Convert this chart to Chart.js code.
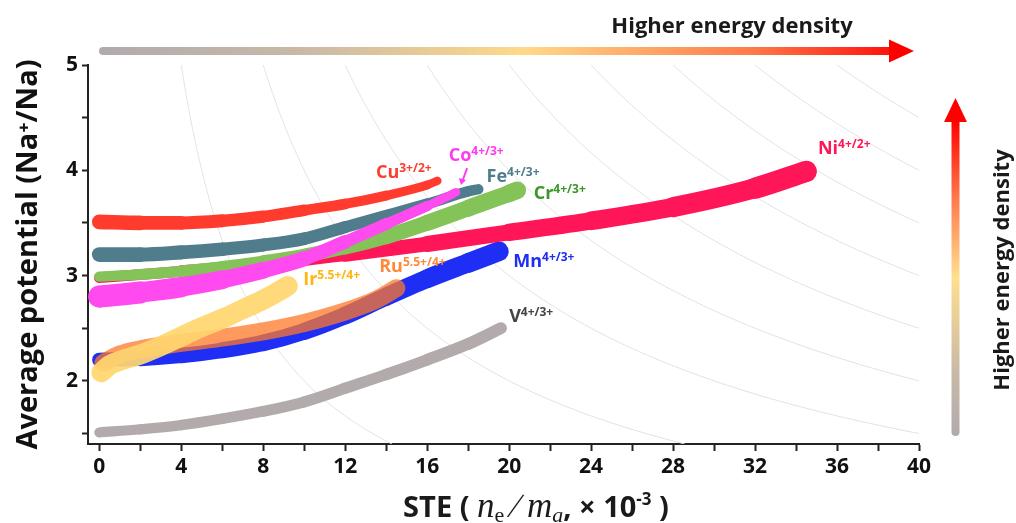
<!DOCTYPE html>
<html>
<head>
<meta charset="utf-8">
<script src="https://cdn.jsdelivr.net/npm/chart.js@4.4.1/dist/chart.umd.min.js"></script>
<style>
  html, body { margin: 0; padding: 0; background: #fff; }
</style>
</head>
<body>
<canvas id="steChart" width="1016" height="523"></canvas>
<script>
// STE (x, ×10^-3) and average potential (V vs Na+/Na) for each redox couple
const cuX = [0, 2, 4, 6, 8, 10, 12, 14, 16, 16.5];
const cuY = [3.51, 3.50, 3.50, 3.52, 3.56, 3.62, 3.68, 3.76, 3.86, 3.90];
const coX = [0, 2, 4, 6, 8, 10, 12, 14, 16, 17.4];
const coY = [2.80, 2.84, 2.89, 2.96, 3.05, 3.16, 3.32, 3.49, 3.66, 3.79];
const feX = [0, 2, 4, 6, 8, 10, 12, 14, 16, 18, 18.5];
const feY = [3.20, 3.20, 3.22, 3.25, 3.29, 3.35, 3.46, 3.57, 3.68, 3.80, 3.82];
const crX = [0, 2, 4, 6, 8, 10, 12, 14, 16, 18, 20, 20.4];
const crY = [2.99, 3.01, 3.04, 3.08, 3.13, 3.19, 3.27, 3.37, 3.50, 3.64, 3.78, 3.81];
const niX = [0, 4, 8, 12, 16, 20, 24, 28, 32, 34.5];
const niY = [2.98, 3.04, 3.11, 3.20, 3.30, 3.41, 3.52, 3.65, 3.83, 3.99];
const irX = [0.1, 0.5, 1, 2, 3, 4, 5, 6, 7, 8, 9.2];
const irY = [2.08, 2.15, 2.19, 2.25, 2.33, 2.42, 2.51, 2.59, 2.68, 2.77, 2.90];
const ruX = [0.2, 1, 2, 4, 6, 8, 10, 12, 13.5, 14.5];
const ruY = [2.17, 2.25, 2.30, 2.36, 2.41, 2.47, 2.55, 2.66, 2.77, 2.88];
const mnX = [0, 2, 4, 6, 8, 10, 12, 14, 16, 18, 19.5];
const mnY = [2.20, 2.21, 2.24, 2.29, 2.36, 2.47, 2.62, 2.80, 2.97, 3.12, 3.23];
const vX = [0, 2, 4, 6, 8, 10, 12, 14, 16, 18, 19.6];
const vY = [1.51, 1.54, 1.58, 1.64, 1.71, 1.80, 1.93, 2.06, 2.20, 2.35, 2.50];

// iso energy density levels (STE × potential)
const isoLevels = [20, 40, 60, 80, 100, 120, 140, 160, 180];

const xMajor = [0, 4, 8, 12, 16, 20, 24, 28, 32, 36, 40];
const yMajor = [2, 3, 4, 5];

const FONT = "'Open Sans', 'DejaVu Sans', sans-serif";

// first in list is drawn on top
const series = [
  { name: 'Cu', sup: '3+/2+', xs: cuX, ys: cuY, color: '#ff3b2e', tagColor: '#ff3b2e', w: [15, 8], tag: [13.5, 3.93] },
  { name: 'Co', sup: '4+/3+', xs: coX, ys: coY, color: '#ff4af0', tagColor: '#ff3bef', w: [23, 8], tag: [17.05, 4.09] },
  { name: 'Fe', sup: '4+/3+', xs: feX, ys: feY, color: '#4f7d8b', tagColor: '#4f7d8b', w: [15, 10], tag: [18.9, 3.89] },
  { name: 'Cr', sup: '4+/3+', xs: crX, ys: crY, color: '#84c358', tagColor: '#3c962c', w: [10, 18], tag: [21.2, 3.73] },
  { name: 'Ni', sup: '4+/2+', xs: niX, ys: niY, color: '#ff1659', tagColor: '#ff1659', w: [10, 22], tag: [35.07, 4.15] },
  { name: 'Ir', sup: '5.5+/4+', xs: irX, ys: irY, color: 'rgba(255,214,112,0.93)', tagColor: '#ffb60f', w: [20, 20], tag: [9.95, 2.91] },
  { name: 'Ru', sup: '5.5+/4+', xs: ruX, ys: ruY, color: 'rgba(255,120,40,0.75)', tagColor: '#ff8a3a', w: [18, 18], tag: [13.66, 3.03] },
  { name: 'Mn', sup: '4+/3+', xs: mnX, ys: mnY, color: '#1f2ef5', tagColor: '#1f2ef5', w: [14, 20], tag: [20.2, 3.08] },
  { name: 'V', sup: '4+/3+', xs: vX, ys: vY, color: '#b3abab', tagColor: '#444444', w: [10, 12], tag: [20.0, 2.56] }
];

const isoPlugin = {
  id: 'isoLines',
  beforeDatasetsDraw(chart) {
    const { ctx, chartArea: a, scales: { x, y } } = chart;
    ctx.save();
    ctx.beginPath();
    ctx.rect(a.left, a.top, a.right - a.left, a.bottom - a.top);
    ctx.clip();
    ctx.strokeStyle = '#e2e2e2';
    ctx.lineWidth = 1;
    isoLevels.forEach(c => {
      ctx.beginPath();
      for (let i = 0; i <= 200; i++) {
        const v = y.max - i * (y.max - y.min) / 200;
        const px = x.getPixelForValue(c / v), py = y.getPixelForValue(v);
        if (i === 0) ctx.moveTo(px, py); else ctx.lineTo(px, py);
      }
      ctx.stroke();
    });
    ctx.restore();
  }
};

function drawRuns(ctx, runs, startX, baseY) {
  let cx = startX;
  runs.forEach(r => {
    ctx.font = r.font;
    ctx.fillText(r.t, cx, baseY + (r.dy || 0));
    cx += ctx.measureText(r.t).width;
  });
}

function runsWidth(ctx, runs) {
  let w = 0;
  runs.forEach(r => { ctx.font = r.font; w += ctx.measureText(r.t).width; });
  return w;
}

const decorPlugin = {
  id: 'decor',
  afterDraw(chart) {
    const { ctx, scales: { x, y } } = chart;
    ctx.save();

    // series tags
    ctx.textAlign = 'left';
    ctx.textBaseline = 'alphabetic';
    series.forEach(s => {
      ctx.fillStyle = s.tagColor;
      const px = x.getPixelForValue(s.tag[0]), py = y.getPixelForValue(s.tag[1]);
      drawRuns(ctx, [
        { t: s.name, font: `bold 18px ${FONT}` },
        { t: s.sup, font: `bold 12px ${FONT}`, dy: -6 }
      ], px, py);
    });

    // small arrow pointing to Co end
    const ax0 = x.getPixelForValue(17.95), ay0 = y.getPixelForValue(4.02);
    const ax1 = x.getPixelForValue(17.65), ay1 = y.getPixelForValue(3.86);
    ctx.strokeStyle = '#ff3bef';
    ctx.fillStyle = '#ff3bef';
    ctx.lineWidth = 2;
    ctx.beginPath(); ctx.moveTo(ax0, ay0); ctx.lineTo(ax1 + 1.5, ay1 - 4); ctx.stroke();
    ctx.beginPath();
    ctx.moveTo(ax1, ay1); ctx.lineTo(ax1 - 2, ay1 - 7); ctx.lineTo(ax1 + 5, ay1 - 5); ctx.closePath(); ctx.fill();

    // horizontal arrow
    const hg = ctx.createLinearGradient(100, 0, 915, 0);
    hg.addColorStop(0, '#b1aaae');
    hg.addColorStop(0.25, '#c9b9a6');
    hg.addColorStop(0.52, '#ffd98a');
    hg.addColorStop(0.8, '#ff7a4a');
    hg.addColorStop(1, '#ff0000');
    ctx.strokeStyle = hg;
    ctx.lineWidth = 8;
    ctx.lineCap = 'round';
    ctx.beginPath(); ctx.moveTo(103, 51); ctx.lineTo(893, 51); ctx.stroke();
    ctx.fillStyle = '#ff0000';
    ctx.beginPath(); ctx.moveTo(889, 39.5); ctx.lineTo(914, 51); ctx.lineTo(889, 62.5); ctx.closePath(); ctx.fill();

    // vertical arrow
    const vg = ctx.createLinearGradient(0, 435, 0, 120);
    vg.addColorStop(0, '#b1aaae');
    vg.addColorStop(0.2, '#c9b9a6');
    vg.addColorStop(0.5, '#ffdf8f');
    vg.addColorStop(0.75, '#ff7a4a');
    vg.addColorStop(1, '#ff0000');
    ctx.strokeStyle = vg;
    ctx.lineWidth = 8;
    ctx.beginPath(); ctx.moveTo(955.5, 432); ctx.lineTo(955.5, 118); ctx.stroke();
    ctx.fillStyle = '#ff0000';
    ctx.beginPath(); ctx.moveTo(944, 122); ctx.lineTo(955.5, 98); ctx.lineTo(967, 122); ctx.closePath(); ctx.fill();

    // arrow captions
    ctx.fillStyle = '#1a1a1a';
    ctx.font = `bold 22px ${FONT}`;
    ctx.textAlign = 'center';
    ctx.textBaseline = 'middle';
    ctx.fillText('Higher energy density', 732, 27);
    ctx.save();
    ctx.translate(1003, 270);
    ctx.rotate(-Math.PI / 2);
    ctx.fillText('Higher energy density', 0, 0);
    ctx.restore();

    // x axis title with italic symbols
    ctx.textAlign = 'left';
    ctx.textBaseline = 'alphabetic';
    const serifI = "'Liberation Serif', 'DejaVu Serif', serif";
    const runs = [
      { t: 'STE ( ', font: `bold 29px ${FONT}` },
      { t: 'n', font: `italic 35px ${serifI}` },
      { t: 'e', font: `22px ${serifI}`, dy: 5 },
      { t: ' \u2215 ', font: `34px ${serifI}` },
      { t: 'm', font: `italic 35px ${serifI}` },
      { t: 'a', font: `italic 22px ${serifI}`, dy: 5 },
      { t: ', \u00d7 10', font: `bold 29px ${FONT}` },
      { t: '-3', font: `bold 17px ${FONT}`, dy: -12 },
      { t: ' )', font: `bold 29px ${FONT}` }
    ];
    const tw = runsWidth(ctx, runs);
    drawRuns(ctx, runs, 536 - tw / 2, 517);

    ctx.restore();
  }
};

const ctx = document.getElementById('steChart').getContext('2d');
new Chart(ctx, {
  type: 'line',
  data: {
    datasets: series.map((s, k) => ({
      label: s.name,
      data: s.xs.map((v, i) => ({ x: v, y: s.ys[i] })),
      borderColor: s.color,
      borderWidth: s.w[0],
      borderCapStyle: 'round',
      borderJoinStyle: 'round',
      cubicInterpolationMode: 'monotone',
      pointRadius: 0,
      fill: false,
      order: k,
      segment: {
        borderWidth: c => {
          const t = (c.p0DataIndex + 0.5) / (s.xs.length - 1);
          return s.w[0] + (s.w[1] - s.w[0]) * t;
        }
      }
    }))
  },
  options: {
    responsive: false,
    animation: false,
    layout: { padding: { top: 65, right: 97, left: 0, bottom: 0 } },
    plugins: {
      legend: { display: false },
      tooltip: { enabled: false }
    },
    scales: {
      x: {
        type: 'linear',
        min: -0.55,
        max: 40,
        afterFit: s => { s.height = 79; },
        afterBuildTicks: s => {
          const t = [];
          for (let v = 0; v <= 40; v += 2) t.push({ value: v });
          s.ticks = t;
        },
        ticks: {
          autoSkip: false,
          maxRotation: 0,
          padding: 3,
          color: '#111',
          font: { family: FONT, size: 21, weight: 'bold' },
          callback: v => xMajor.includes(v) ? String(v) : ''
        },
        grid: { drawOnChartArea: false, tickLength: 7, tickWidth: 2, tickColor: '#222' },
        border: { display: true, color: '#222', width: 2 }
      },
      y: {
        min: 1.4,
        max: 5,
        afterFit: s => { s.width = 88; },
        afterBuildTicks: s => {
          const t = [];
          for (let v = 1.5; v <= 5; v += 0.5) t.push({ value: v });
          s.ticks = t;
        },
        ticks: {
          autoSkip: false,
          padding: 4,
          color: '#111',
          font: { family: FONT, size: 21, weight: 'bold' },
          callback: v => yMajor.includes(v) ? String(v) : ''
        },
        grid: { drawOnChartArea: false, tickLength: 6, tickWidth: 2, tickColor: '#222' },
        border: { display: true, color: '#222', width: 2 },
        title: {
          display: true,
          text: 'Average potential (Na\u207a/Na)',
          color: '#111',
          font: { family: FONT, size: 29, weight: 'bold' },
          padding: { top: 11, bottom: 0 }
        }
      }
    }
  },
  plugins: [isoPlugin, decorPlugin]
});
</script>
</body>
</html>
